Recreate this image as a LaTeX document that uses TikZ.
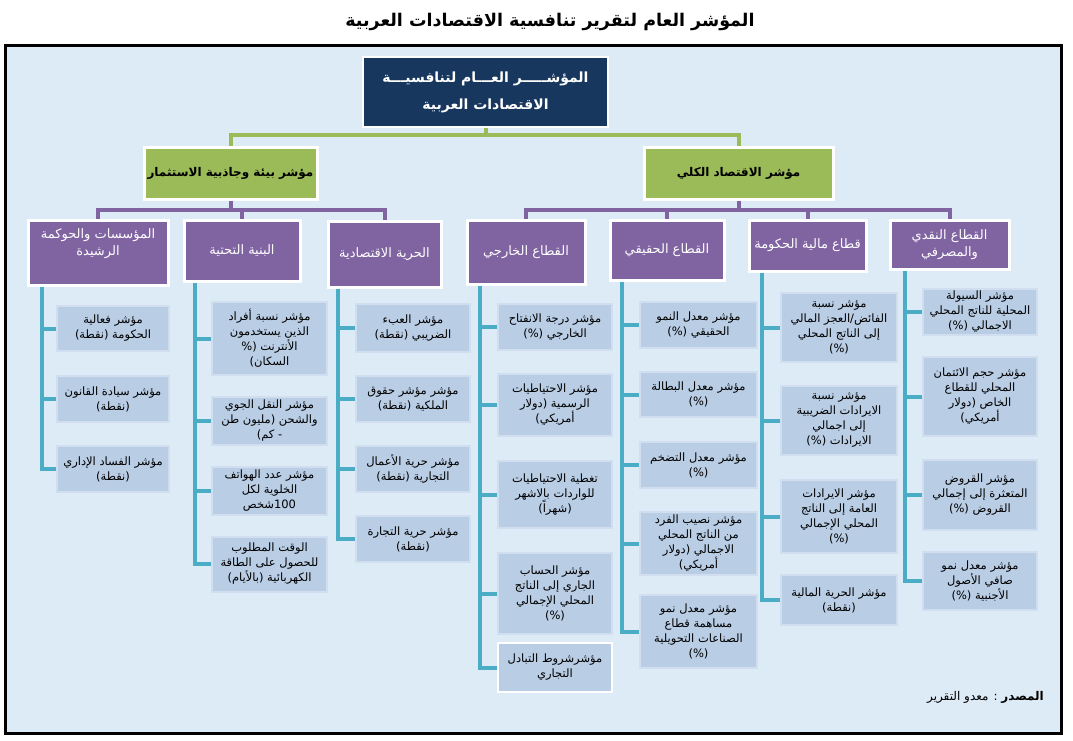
\documentclass[tikz,border=0pt]{standalone}
\usepackage{fontspec}
\setmainfont{DejaVu Sans}
\newfontfamily\arabicfont[Script=Arabic]{DejaVu Sans}
\TeXXeTstate=1
\usetikzlibrary{calc}
\definecolor{bgblue}{RGB}{221,235,247}
\definecolor{navy}{RGB}{23,55,94}
\definecolor{grn}{RGB}{155,187,89}
\definecolor{purp}{RGB}{128,100,162}
\definecolor{leafc}{RGB}{185,205,229}
\definecolor{leafe}{RGB}{208,222,240}
\definecolor{tealc}{RGB}{75,172,198}
\newcommand{\rtltext}[1]{\beginR #1\endR}
\begin{document}
\begin{tikzpicture}[x=1pt,y=-1pt,
 every node/.style={inner sep=1pt, align=center},
 topbox/.style={fill=navy, draw=white, line width=2pt, text=white, font=\arabicfont\bfseries\fontsize{14}{27}\selectfont},
 grnbox/.style={fill=grn, draw=white, line width=3pt, font=\arabicfont\bfseries\fontsize{12}{15}\selectfont},
 purbox/.style={fill=purp, draw=white, line width=3pt, text=white, font=\arabicfont\fontsize{13}{17}\selectfont},
 leaf/.style={fill=leafc, draw=leafe, line width=2pt, font=\arabicfont\fontsize{11.5}{15}\selectfont},
 gconn/.style={draw=grn, line width=4pt},
 pconn/.style={draw=purp, line width=4pt},
 tconn/.style={draw=tealc, line width=4pt},
]
\useasboundingbox (0,0) rectangle (1073,740);
\draw[line width=3pt, fill=bgblue] (5,45) rectangle (1061,733);

\node[font=\arabicfont\bfseries\fontsize{17.5}{20}\selectfont] (title) at (550,22) {\rtltext{المؤشر العام لتقرير تنافسية الاقتصادات العربية}};

\node[topbox, minimum width=245pt, minimum height=70pt] (top) at (485.5,92) {\rtltext{المؤشـــــر العـــام لتنافسيـــة}\\\rtltext{الاقتصادات العربية}};

\node[grnbox, minimum width=173pt, minimum height=52pt] (ginv) at (230.5,173) {\rtltext{مؤشر بيئة وجاذبية الاستثمار}};
\node[grnbox, minimum width=189pt, minimum height=52pt] (gmac) at (738.5,173) {\rtltext{مؤشر الاقتصاد الكلي}};

\node[purbox, minimum width=140pt, minimum height=65pt] (p1) at (98,252.5) {\rtltext{المؤسسات والحوكمة}\\\rtltext{الرشيدة}\\[4pt]};
\node[purbox, minimum width=116pt, minimum height=61pt] (p2) at (242,250.5) {\rtltext{البنية التحتية}};
\node[purbox, minimum width=113pt, minimum height=66pt] (p3) at (384.5,254) {\rtltext{الحرية الاقتصادية}};
\node[purbox, minimum width=118pt, minimum height=64pt] (p4) at (526,252) {\rtltext{القطاع الخارجي}};
\node[purbox, minimum width=114pt, minimum height=60pt] (p5) at (667,250) {\rtltext{القطاع الحقيقي}};
\node[purbox, minimum width=117pt, minimum height=51pt] (p6) at (807.5,245.5) {\rtltext{قطاع مالية الحكومة}};
\node[purbox, minimum width=119pt, minimum height=49pt] (p7) at (949.5,244.5) {\rtltext{القطاع النقدي}\\\rtltext{والمصرفي}};

% column 1
\node[leaf, minimum width=112pt, minimum height=45pt] (l1a) at (113,328.5) {\rtltext{مؤشر فعالية}\\\rtltext{الحكومة (نقطة)}};
\node[leaf, minimum width=112pt, minimum height=46pt] (l1b) at (113,399) {\rtltext{مؤشر سيادة القانون}\\\rtltext{(نقطة)}};
\node[leaf, minimum width=112pt, minimum height=46pt] (l1c) at (113,469) {\rtltext{مؤشر الفساد الإداري}\\\rtltext{(نقطة)}};
% column 2
\node[leaf, minimum width=115pt, minimum height=73pt] (l2a) at (269.5,338.5) {\rtltext{مؤشر نسبة أفراد}\\\rtltext{الذين يستخدمون}\\\rtltext{الأنترنت (\%}\\\rtltext{السكان)}};
\node[leaf, minimum width=115pt, minimum height=48pt] (l2b) at (269.5,421) {\rtltext{مؤشر النقل الجوي}\\\rtltext{والشحن (مليون طن}\\\rtltext{- كم)}};
\node[leaf, minimum width=115pt, minimum height=48pt] (l2c) at (269.5,491) {\rtltext{مؤشر عدد الهواتف}\\\rtltext{الخلوية لكل}\\\rtltext{100شخص}};
\node[leaf, minimum width=115pt, minimum height=55pt] (l2d) at (269.5,564) {\rtltext{الوقت المطلوب}\\\rtltext{للحصول على الطاقة}\\\rtltext{الكهربائية (بالأيام)}};
% column 3
\node[leaf, minimum width=114pt, minimum height=48pt] (l3a) at (413,328) {\rtltext{مؤشر العبء}\\\rtltext{الضريبي (نقطة)}};
\node[leaf, minimum width=114pt, minimum height=46pt] (l3b) at (413,399) {\rtltext{مؤشر مؤشر حقوق}\\\rtltext{الملكية (نقطة)}};
\node[leaf, minimum width=114pt, minimum height=46pt] (l3c) at (413,469) {\rtltext{مؤشر حرية الأعمال}\\\rtltext{التجارية (نقطة)}};
\node[leaf, minimum width=114pt, minimum height=46pt] (l3d) at (413,539) {\rtltext{مؤشر حرية التجارة}\\\rtltext{(نقطة)}};
% column 4
\node[leaf, minimum width=114pt, minimum height=46pt] (l4a) at (555,327) {\rtltext{مؤشر درجة الانفتاح}\\\rtltext{الخارجي (\%)}};
\node[leaf, minimum width=114pt, minimum height=62pt] (l4b) at (555,405) {\rtltext{مؤشر الاحتياطيات}\\\rtltext{الرسمية (دولار}\\\rtltext{أمريكي)}};
\node[leaf, minimum width=114pt, minimum height=67pt] (l4c) at (555,494.5) {\rtltext{تغطية الاحتياطيات}\\\rtltext{للواردات بالاشهر}\\\rtltext{(شهراً)}};
\node[leaf, minimum width=114pt, minimum height=81pt] (l4d) at (555,593.5) {\rtltext{مؤشر الحساب}\\\rtltext{الجاري إلى الناتج}\\\rtltext{المحلي الإجمالي}\\\rtltext{(\%)}};
\node[leaf, draw=white, minimum width=114pt, minimum height=49pt] (l4e) at (555,667.5) {\rtltext{مؤشرشروط التبادل}\\\rtltext{التجاري}};
% column 5
\node[leaf, minimum width=117pt, minimum height=46pt] (l5a) at (698.5,325) {\rtltext{مؤشر معدل النمو}\\\rtltext{الحقيقي (\%)}};
\node[leaf, minimum width=117pt, minimum height=45pt] (l5b) at (698.5,394.5) {\rtltext{مؤشر معدل البطالة}\\\rtltext{(\%)}};
\node[leaf, minimum width=117pt, minimum height=46pt] (l5c) at (698.5,465) {\rtltext{مؤشر معدل التضخم}\\\rtltext{(\%)}};
\node[leaf, minimum width=117pt, minimum height=63pt] (l5d) at (698.5,543.5) {\rtltext{مؤشر نصيب الفرد}\\\rtltext{من الناتج المحلي}\\\rtltext{الاجمالي (دولار}\\\rtltext{أمريكي)}};
\node[leaf, minimum width=117pt, minimum height=73pt] (l5e) at (698.5,631.5) {\rtltext{مؤشر معدل نمو}\\\rtltext{مساهمة قطاع}\\\rtltext{الصناعات التحويلية}\\\rtltext{(\%)}};
% column 6
\node[leaf, minimum width=116pt, minimum height=69pt] (l6a) at (839,327.5) {\rtltext{مؤشر نسبة}\\\rtltext{الفائض/العجز المالي}\\\rtltext{إلى الناتج المحلي}\\\rtltext{(\%)}};
\node[leaf, minimum width=116pt, minimum height=69pt] (l6b) at (839,420.5) {\rtltext{مؤشر نسبة}\\\rtltext{الايرادات الضريبية}\\\rtltext{إلى اجمالي}\\\rtltext{الايرادات (\%)}};
\node[leaf, minimum width=116pt, minimum height=73pt] (l6c) at (839,516.5) {\rtltext{مؤشر الايرادات}\\\rtltext{العامة إلى الناتج}\\\rtltext{المحلي الإجمالي}\\\rtltext{(\%)}};
\node[leaf, minimum width=116pt, minimum height=50pt] (l6d) at (839,600) {\rtltext{مؤشر الحرية المالية}\\\rtltext{(نقطة)}};
% column 7
\node[leaf, minimum width=114pt, minimum height=46pt] (l7a) at (980,312) {\rtltext{مؤشر السيولة}\\\rtltext{المحلية للناتج المحلي}\\\rtltext{الاجمالي (\%)}};
\node[leaf, minimum width=114pt, minimum height=79pt] (l7b) at (980,396.5) {\rtltext{مؤشر حجم الائتمان}\\\rtltext{المحلي للقطاع}\\\rtltext{الخاص (دولار}\\\rtltext{أمريكي)}};
\node[leaf, minimum width=114pt, minimum height=70pt] (l7c) at (980,495) {\rtltext{مؤشر القروض}\\\rtltext{المتعثرة إلى إجمالي}\\\rtltext{القروض (\%)}};
\node[leaf, minimum width=114pt, minimum height=58pt] (l7d) at (980,581) {\rtltext{مؤشر معدل نمو}\\\rtltext{صافي الأصول}\\\rtltext{الأجنبية (\%)}};

\node[anchor=east, font=\arabicfont\fontsize{12}{14}\selectfont] (src) at (1045,697) {\rtltext{{\bfseries المصدر} : معدو التقرير}};

% connectors: green
\coordinate (gy) at (0,135);
\draw[gconn] (top.south) -- (top.south |- gy);
\draw[gconn] (ginv.north) |- (gy -| gmac.north) -- (gmac.north);
% purple
\coordinate (py) at (0,210);
\draw[pconn] (p1.north) |- (py -| p3.north) -- (p3.north);
\draw[pconn] (ginv.south) -- (ginv.south |- py);
\draw[pconn] (p2.north) -- (p2.north |- py);
\draw[pconn] (p4.north) |- (py -| p7.north) -- (p7.north);
\draw[pconn] (gmac.south) -- (gmac.south |- py);
\draw[pconn] (p5.north) -- (p5.north |- py);
\draw[pconn] (p6.north) -- (p6.north |- py);
% teal
\coordinate (v1) at ([xshift=15pt]p1.south west);
\coordinate (v2) at ([xshift=12pt]p2.south west);
\coordinate (v3) at ([xshift=11pt]p3.south west);
\coordinate (v4) at ([xshift=14pt]p4.south west);
\coordinate (v5) at ([xshift=13pt]p5.south west);
\coordinate (v6) at ([xshift=14pt]p6.south west);
\coordinate (v7) at ([xshift=16pt]p7.south west);
\draw[tconn] (v1) |- (l1c.west);
\foreach \n in {l1a,l1b} \draw[tconn] (\n.west) -- (\n.west -| v1);
\draw[tconn] (v2) |- (l2d.west);
\foreach \n in {l2a,l2b,l2c} \draw[tconn] (\n.west) -- (\n.west -| v2);
\draw[tconn] (v3) |- (l3d.west);
\foreach \n in {l3a,l3b,l3c} \draw[tconn] (\n.west) -- (\n.west -| v3);
\draw[tconn] (v4) |- (l4e.west);
\foreach \n in {l4a,l4b,l4c,l4d} \draw[tconn] (\n.west) -- (\n.west -| v4);
\draw[tconn] (v5) |- (l5e.west);
\foreach \n in {l5a,l5b,l5c,l5d} \draw[tconn] (\n.west) -- (\n.west -| v5);
\draw[tconn] (v6) |- (l6d.west);
\foreach \n in {l6a,l6b,l6c} \draw[tconn] (\n.west) -- (\n.west -| v6);
\draw[tconn] (v7) |- (l7d.west);
\foreach \n in {l7a,l7b,l7c} \draw[tconn] (\n.west) -- (\n.west -| v7);
\end{tikzpicture}
\end{document}
